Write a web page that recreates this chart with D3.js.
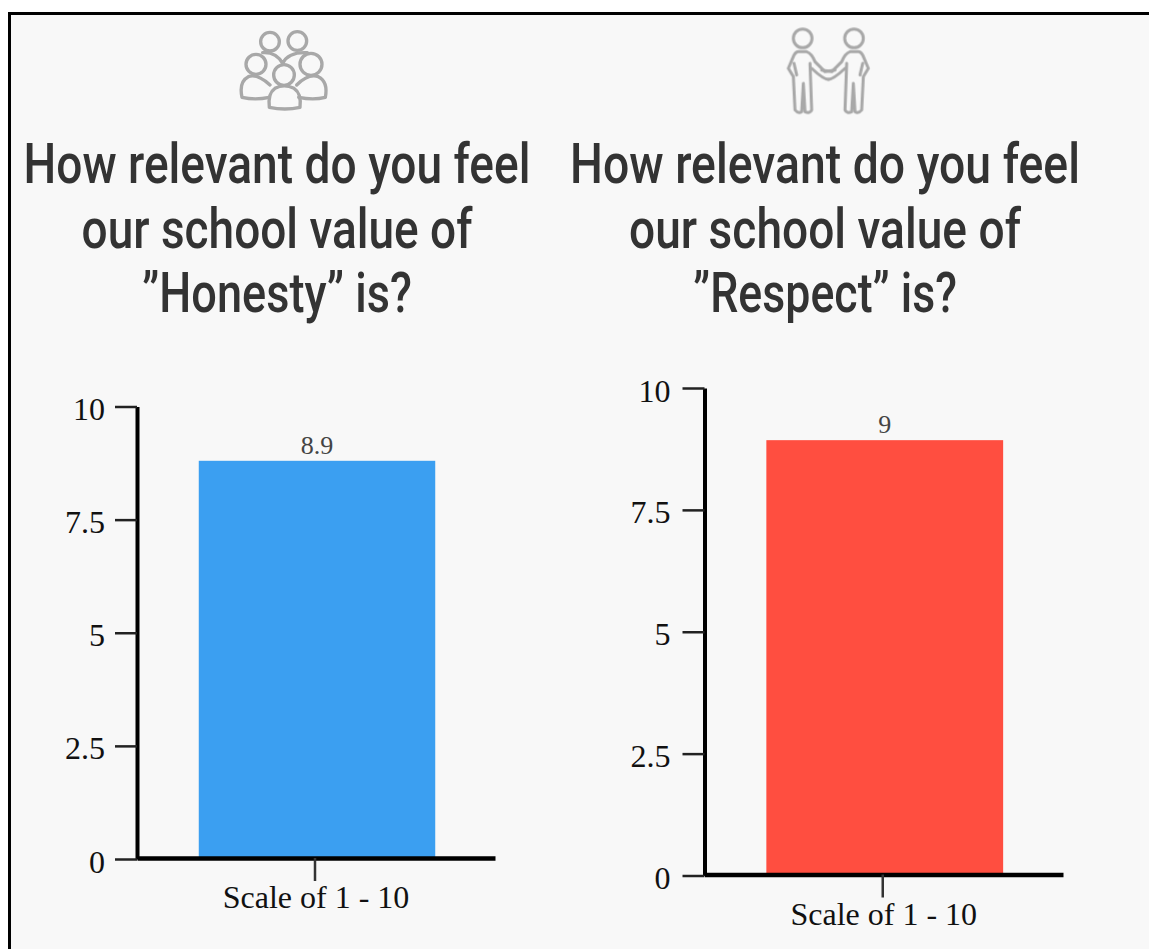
<!DOCTYPE html>
<html><head><meta charset="utf-8">
<script src="https://cdn.jsdelivr.net/npm/d3@7"></script>
<style>html,body{margin:0;padding:0;background:#fff;overflow:hidden}svg{display:block}</style>
</head><body><svg id="c" width="1149" height="949"></svg>
<script>
const categories = ["Scale of 1 - 10"];
const tickValues = [0, 2.5, 5, 7.5, 10];
const honestyValues = [8.8];
const honestyLabels = ["8.9"];
const respectValues = [8.93];
const respectLabels = ["9"];
const honestyTitle = ["How relevant do you feel", "our school value of", "”Honesty” is?"];
const respectTitle = ["How relevant do you feel", "our school value of", "”Respect” is?"];

const svg = d3.select("#c");
svg.append("rect").attr("x",9.5).attr("y",13.5).attr("width",1200).attr("height",1000)
  .attr("fill","#f8f8f8").attr("stroke","#000").attr("stroke-width",3);

const defs = svg.append("defs");
defs.append("filter").attr("id","soft").append("feGaussianBlur").attr("stdDeviation",0.6);

function title(lines, cx, widths){
  const t = svg.append("g").attr("font-family","Roboto, sans-serif").attr("font-size",55).attr("font-weight",500)
    .attr("fill","#333").attr("text-anchor","middle");
  lines.forEach((s,i)=>{
    const n = t.append("text").attr("x",0).attr("y",0).text(s);
    const sx = widths[i]/n.node().getComputedTextLength();
    n.attr("transform",`translate(${cx},${183+64.5*i}) scale(${sx},1)`);
  });
}
title(honestyTitle, 277, [507,391,270]);
title(respectTitle, 825, [510,392,264]);

function chart(o){
  const g = svg.append("g").attr("font-family","'Liberation Serif', serif");
  const y = d3.scaleLinear().domain([0,10]).range([o.y0,o.y1]);
  const x = d3.scaleBand().domain(categories).range([o.x0,o.x1]).paddingInner(0).paddingOuter(0.257);
  g.selectAll("rect.bar").data(o.values).enter().append("rect").attr("class","bar")
    .attr("x",(d,i)=>x(categories[i])+1).attr("width",x.bandwidth())
    .attr("y",d=>y(d)).attr("height",d=>y(0)-y(d)).attr("fill",o.color);
  g.selectAll("text.val").data(o.values).enter().append("text").attr("class","val")
    .attr("x",(d,i)=>x(categories[i])+x.bandwidth()/2+1).attr("y",d=>y(d)-7)
    .attr("text-anchor","middle").attr("font-size",26).attr("fill","#444")
    .text((d,i)=>o.labels[i]);
  const ya = d3.axisLeft(y).tickValues(tickValues).tickFormat(d3.format("~g")).tickSize(22).tickSizeOuter(0).tickPadding(o.pad);
  const gy = g.append("g").attr("transform",`translate(${o.x0},0)`).call(ya);
  gy.select(".domain").attr("stroke","#000").attr("stroke-width",4);
  gy.selectAll(".tick line").attr("stroke","#222").attr("stroke-width",2.5);
  gy.selectAll(".tick text").attr("font-size",32).attr("font-family","'Liberation Serif', serif").attr("fill","#111").attr("dy",13);
  const xa = d3.axisBottom(x).tickSize(23).tickSizeOuter(0).tickPadding(4);
  const gx = g.append("g").attr("transform",`translate(0,${o.y0-1})`).call(xa);
  gx.select(".domain").attr("stroke","#000").attr("stroke-width",4.5);
  gx.selectAll(".tick").attr("transform",d=>`translate(${x(d)+x.bandwidth()/2-1},0)`);
  gx.selectAll(".tick line").attr("stroke","#333").attr("stroke-width",2.5);
  gx.selectAll(".tick text").attr("font-size",32).attr("font-family","'Liberation Serif', serif").attr("fill","#111").attr("x",1).attr("dy",23);
}
chart({values:honestyValues,labels:honestyLabels,color:"#3b9ff1",x0:137,x1:495,y0:859,y1:406.5,pad:10});
chart({values:respectValues,labels:respectLabels,color:"#ff4e40",x0:704.5,x1:1063,y0:875.5,y1:388,pad:12});

// icons
const ic = svg.append("g").attr("fill","none").attr("stroke","#a8a8a8").attr("filter","url(#soft)")
  .attr("stroke-linecap","round").attr("stroke-linejoin","round");
const people = ic.append("g").attr("transform","translate(220,20) scale(0.3333)").attr("stroke-width",10);
[[150,65,28],[232,63,28],[108,133,30],[273,133,33],[192,165,31]].forEach(c=>
  people.append("circle").attr("cx",c[0]).attr("cy",c[1]).attr("r",c[2]));
[
 "M128,98 Q168,95 188,130 Q205,95 262,98",
 "M148,232 Q105,241 66,232 Q56,185 85,170 Q112,160 150,195",
 "M236,232 Q280,241 316,232 Q325,185 295,170 Q265,160 230,195",
 "M148,262 Q195,272 240,262 Q245,220 222,205 Q192,190 165,205 Q143,220 148,262"
].forEach(d=>people.append("path").attr("d",d));

const figure = "M85,95 L110,95 Q125,100 135,125 L165,155 L195,150 M120,130 L125,270 Q120,282 105,275 L100,190 L95,275 Q85,282 75,270 L70,170 L55,145 L72,105 Q78,95 85,95 M72,130 L80,165 M125,145 Q160,178 175,178";
const shake = ic.append("g").attr("transform","translate(770,20) scale(0.3333)").attr("stroke-width",9);
[0,1].forEach(m=>{
  const f = shake.append("g").attr("transform", m? "translate(350,0) scale(-1,1)":null);
  f.append("circle").attr("cx",98).attr("cy",55).attr("r",28);
  f.append("path").attr("d",figure);
});
</script></body></html>
